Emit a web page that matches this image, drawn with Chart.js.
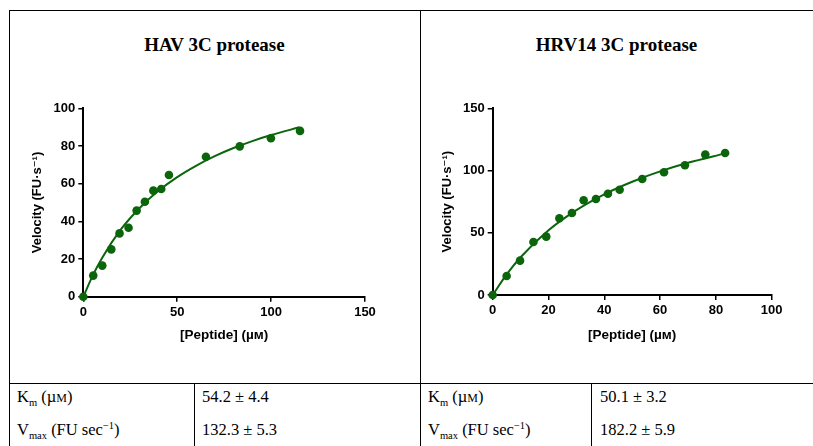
<!DOCTYPE html>
<html>
<head>
<meta charset="utf-8">
<script src="https://cdn.jsdelivr.net/npm/chart.js@4"></script>
<style>
    body { margin: 0; background: #fff; }
    #page { position: relative; width: 813px; height: 446px; overflow: hidden; background: #fff; }
    .line { position: absolute; background: #000; }
    .title { position: absolute; font: bold 19px 'Liberation Serif', 'Times New Roman', serif; line-height: 19px; text-align: center; color: #000; }
    .cell { position: absolute; font: 16.5px 'Liberation Serif', 'Times New Roman', serif; line-height: 16px; color: #000; white-space: nowrap; }
    .cell sub, .cell sup { font-size: 10.5px; line-height: 0; }
    .sc { font-variant: small-caps; }
    canvas { position: absolute; }
</style>
</head>
<body>
<div id="page">
    <!-- cadre du tableau -->
    <div class="line" style="left:9px; top:10px; width:804px; height:1px;"></div>
    <div class="line" style="left:9px; top:10px; width:1px; height:436px;"></div>
    <div class="line" style="left:420px; top:10px; width:1px; height:436px;"></div>
    <div class="line" style="left:9px; top:383px; width:804px; height:1px;"></div>
    <div class="line" style="left:194px; top:383px; width:1px; height:63px;"></div>
    <div class="line" style="left:591px; top:383px; width:1px; height:63px;"></div>

    <div class="title" style="left:9px; width:411px; top:35px;">HAV 3C protease</div>
    <div class="title" style="left:420px; width:393px; top:35px;">HRV14 3C protease</div>

    <div style="position:absolute; left:0; top:80px; width:410px; height:280px;"><canvas id="havChart"></canvas></div>
    <div style="position:absolute; left:420px; top:80px; width:393px; height:280px;"><canvas id="hrvChart"></canvas></div>

    <div class="cell" style="left:17px; top:389px;">K<sub>m</sub> (µ<span class="sc">m</span>)</div>
    <div class="cell" style="left:202px; top:389px;" id="hav-km"></div>
    <div class="cell" style="left:17px; top:422px;">V<sub>max</sub> (FU sec<sup>−1</sup>)</div>
    <div class="cell" style="left:202px; top:422px;" id="hav-vmax"></div>
    <div class="cell" style="left:428px; top:389px;">K<sub>m</sub> (µ<span class="sc">m</span>)</div>
    <div class="cell" style="left:600px; top:389px;" id="hrv-km"></div>
    <div class="cell" style="left:428px; top:422px;">V<sub>max</sub> (FU sec<sup>−1</sup>)</div>
    <div class="cell" style="left:600px; top:422px;" id="hrv-vmax"></div>
</div>

<script>
// HAV 3C : points mesurés
const havPeptide = [0, 5.3, 10.1, 14.9, 19.3, 24.1, 28.4, 32.8, 37.3, 41.5, 45.6, 65.3, 83.3, 99.9, 115.4];
const havVelocity = [0, 11.2, 16.5, 25.1, 33.6, 36.6, 45.7, 50.4, 56.3, 57.2, 64.6, 74.3, 79.8, 84.1, 88.0];
// HAV 3C : courbe ajustée
const havFitX = [0, 5, 10, 20, 30, 40, 50, 60, 70, 80, 90, 100, 115];
const havFitY = [0, 11.2, 20.6, 35.7, 47.1, 56.2, 63.5, 69.5, 74.6, 78.9, 82.6, 85.8, 89.9];
const havXTicks = [0, 50, 100, 150];
const havYTicks = [0, 20, 40, 60, 80, 100];

// HRV14 3C : points mesurés
const hrvPeptide = [0, 5.0, 9.8, 14.6, 19.2, 23.9, 28.4, 32.6, 37.0, 41.3, 45.5, 53.6, 61.4, 68.9, 76.2, 83.3];
const hrvVelocity = [0, 15.3, 27.6, 42.6, 46.9, 61.6, 65.9, 76.1, 77.1, 81.4, 84.6, 93.2, 98.6, 104.2, 112.8, 114.1];
const hrvFitX = [0, 5, 10, 20, 30, 40, 50, 60, 70, 83.3];
const hrvFitY = [0, 16.5, 30.3, 52.0, 68.2, 80.9, 91.0, 99.3, 106.2, 113.8];
const hrvXTicks = [0, 20, 40, 60, 80, 100];
const hrvYTicks = [0, 50, 100, 150];

// Paramètres cinétiques
const kmValues = ['54.2 ± 4.4', '50.1 ± 3.2'];
const vmaxValues = ['132.3 ± 5.3', '182.2 ± 5.9'];

const GREEN = '#0b650b';
const SANS = "'Liberation Sans', Arial, 'DejaVu Sans', sans-serif";

document.getElementById('hav-km').textContent = kmValues[0];
document.getElementById('hrv-km').textContent = kmValues[1];
document.getElementById('hav-vmax').textContent = vmaxValues[0];
document.getElementById('hrv-vmax').textContent = vmaxValues[1];

function toPoints(xs, ys) {
    return xs.map((x, i) => ({ x: x, y: ys[i] }));
}

function makeChart(id, cfg) {
    const ctx = document.getElementById(id).getContext('2d');
    return new Chart(ctx, {
        type: 'scatter',
        data: {
            datasets: [{
                data: toPoints(cfg.fitX, cfg.fitY),
                showLine: true,
                borderColor: GREEN,
                borderWidth: 2,
                pointRadius: 0,
                cubicInterpolationMode: 'monotone',
                clip: false
            }, {
                data: toPoints(cfg.x, cfg.y),
                backgroundColor: GREEN,
                borderColor: GREEN,
                pointRadius: 4.3,
                borderWidth: 0,
                clip: false
            }]
        },
        options: {
            responsive: true,
            maintainAspectRatio: false,
            animation: false,
            events: [],
            layout: { padding: cfg.padding },
            plugins: { legend: { display: false }, tooltip: { enabled: false } },
            scales: {
                x: {
                    type: 'linear',
                    min: cfg.xTicks[0],
                    max: cfg.xTicks[cfg.xTicks.length - 1],
                    afterBuildTicks: s => { s.ticks = cfg.xTicks.map(v => ({ value: v })); },
                    afterFit: s => { s.height = cfg.xHeight; },
                    grid: { display: true, drawOnChartArea: false, drawTicks: true, tickLength: 5, color: '#000', lineWidth: 1.5 },
                    border: { display: true, color: '#000', width: 2 },
                    ticks: { color: '#000', padding: 3, maxRotation: 0, font: { family: SANS, size: 13, weight: 'bold' } },
                    title: { display: true, text: '[Peptide] (µᴍ)', color: '#000', padding: 0, font: { family: SANS, size: 13.5, weight: 'bold' } }
                },
                y: {
                    type: 'linear',
                    min: cfg.yTicks[0],
                    max: cfg.yTicks[cfg.yTicks.length - 1],
                    afterBuildTicks: s => { s.ticks = cfg.yTicks.map(v => ({ value: v })); },
                    afterFit: s => { s.width = cfg.yWidth; },
                    grid: { display: true, drawOnChartArea: false, drawTicks: true, tickLength: 5, color: '#000', lineWidth: 1.5 },
                    border: { display: true, color: '#000', width: 2 },
                    ticks: { color: '#000', padding: 3, font: { family: SANS, size: 13, weight: 'bold' } },
                    title: { display: true, text: 'Velocity (FU·s⁻¹)', color: '#000', padding: 0, font: { family: SANS, size: 13, weight: 'bold' } }
                }
            }
        }
    });
}

makeChart('havChart', {
    x: havPeptide, y: havVelocity, fitX: havFitX, fitY: havFitY,
    xTicks: havXTicks, yTicks: havYTicks,
    padding: { left: 29.5, top: 28.3, right: 45, bottom: 16.2 },
    yWidth: 53.8, xHeight: 47.1
});

makeChart('hrvChart', {
    x: hrvPeptide, y: hrvVelocity, fitX: hrvFitX, fitY: hrvFitY,
    xTicks: hrvXTicks, yTicks: hrvYTicks,
    padding: { left: 19.5, top: 28.3, right: 41.3, bottom: 16.2 },
    yWidth: 53.2, xHeight: 48.8
});
</script>
</body>
</html>
